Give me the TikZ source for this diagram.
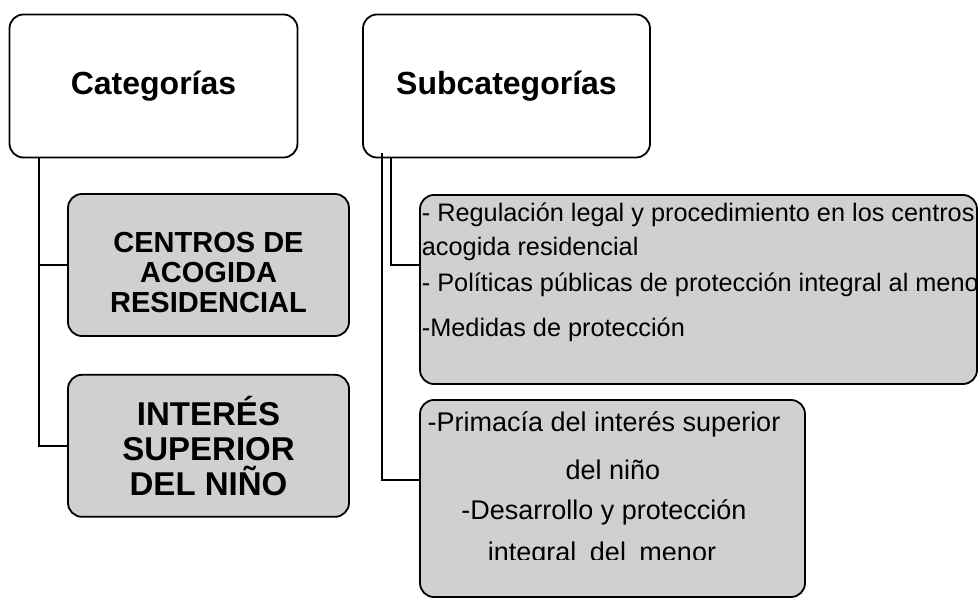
\documentclass[tikz,border=0pt]{standalone}
\usepackage{fontspec}
\setmainfont{Liberation Sans}
\usetikzlibrary{positioning}
\definecolor{boxgray}{RGB}{208,208,208}
\tikzset{
  catbox/.style={draw, line width=1.8pt, rounded corners=14pt, inner sep=0pt, align=center},
  grisbox/.style={catbox, fill=boxgray},
}

\begin{document}
\begin{tikzpicture}
[x=1pt, y=-1pt, line width=1.8pt]
\useasboundingbox (0,0) rectangle (980,599);

% cabeceras
\node [catbox, minimum width=288pt, minimum height=143pt, font=\bfseries\fontsize{32}{36}\selectfont] (cat) at (153.5,86) {Categorías};
\node [catbox, minimum width=287pt, minimum height=143pt, font=\bfseries\fontsize{32}{36}\selectfont] (subcat) at (506.5,86) {Subcategorías};

% categorias
\node [grisbox, minimum width=281pt, minimum height=142pt, text height=95pt, font=\bfseries\fontsize{29}{30}\selectfont] (centros) at (208.5,265) {CENTROS DE\\ACOGIDA\\RESIDENCIAL};
\node [grisbox, minimum width=281pt, minimum height=142pt, below=37pt of centros, font=\bfseries\fontsize{33}{35}\selectfont] (interes) {INTERÉS\\SUPERIOR\\DEL NIÑO};

% subcategorias
\node [grisbox, minimum width=557pt, minimum height=189pt] (reg) at (698.5,289.5) {};
\node [grisbox, minimum width=385pt, minimum height=197pt] (prim) at (612.5,498.5) {};

\begin{scope}
\clip (400,190) rectangle (975,390);
\node [anchor=north west, align=left, inner sep=0pt, font=\fontsize{25.3}{34}\selectfont] (regtxt) at (421,202) {- Regulación legal y procedimiento en los centros de\\acogida residencial\\[2pt]- Políticas públicas de protección integral al menor\\[11pt]-Medidas de protección};
\end{scope}

\begin{scope}
\clip (420,400) rectangle (805,559);
\node [anchor=north, align=center, inner sep=0pt, font=\fontsize{27}{42}\selectfont] (primtxt) at (604,411) {-Primacía del interés superior\\[6pt]\hspace{18pt}del niño\\[-2pt]-Desarrollo y protección\\\hspace{-4pt}integral\hspace{6pt} del\hspace{6pt} menor};
\end{scope}

% conectores
\draw ([xshift=30pt]cat.south west) |- (centros.west);
\draw ([xshift=30pt]cat.south west) |- (interes.west);
\draw ([xshift=29pt]subcat.south west) |- ([yshift=24.5pt]reg.west);
\draw ([xshift=20pt,yshift=5pt]subcat.south west) |- ([yshift=18.5pt]prim.west);

\end{tikzpicture}
\end{document}
